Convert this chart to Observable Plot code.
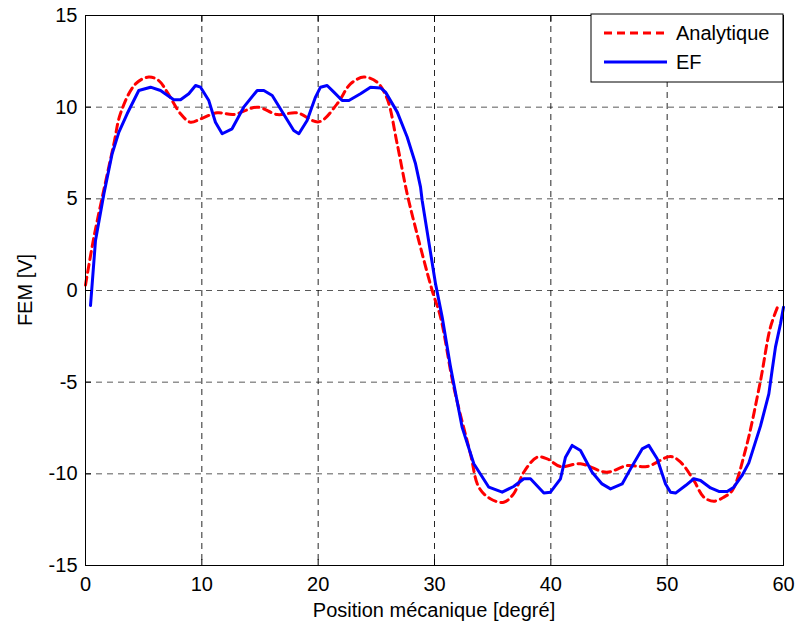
<!DOCTYPE html>
<html><head><meta charset="utf-8">
<script src="https://cdn.jsdelivr.net/npm/d3@7"></script>
<script src="https://cdn.jsdelivr.net/npm/@observablehq/plot@0.6"></script>
<style>body{margin:0;background:#fff;font-family:"Liberation Sans",Arial,sans-serif}</style>
</head><body><div id="chart"></div>
<script>
const seriesNames = ["Analytique", "EF"];
const xTicks = [0, 10, 20, 30, 40, 50, 60];
const yTicks = [-15, -10, -5, 0, 5, 10, 15];

const analytiqueX = [0,0.72,1.58,2.44,3.0,4.3,5.44,6.3,7.02,8.17,9.03,9.89,11.32,12.75,14.76,16.48,18.19,20.06,21.63,22.78,23.93,25.07,25.93,26.79,27.65,28.5,29.8,30.52,31.66,33.09,33.81,34.8,35.95,36.8,37.68,38.82,39.68,40.83,42.55,44.8,46.55,48.27,50.29,51.15,52.29,53.15,54.0,54.87,55.59,56.73,58.0,58.88,59.6];
const analytiqueY = [0.3,2.9,5.5,8.0,9.64,11.27,11.64,11.45,10.82,9.64,9.18,9.36,9.69,9.6,10.0,9.6,9.69,9.2,10.18,11.27,11.64,11.36,10.46,8.0,5.27,3.09,0,-1.45,-5.27,-8.91,-10.73,-11.36,-11.55,-11.09,-9.91,-9.09,-9.18,-9.6,-9.45,-9.91,-9.55,-9.6,-9.06,-9.36,-10.36,-11.27,-11.49,-11.27,-10.91,-8.7,-5.0,-2.0,-0.73];

const efX = [0.43,0.86,1.58,2.29,2.87,3.58,4.58,5.59,6.45,7.59,8.17,8.88,9.46,9.89,10.6,11.17,11.75,12.6,13.6,14.76,15.33,16.05,17.9,18.34,19.05,19.77,20.2,20.77,21.35,22.06,22.64,23.64,24.5,25.36,25.79,26.8,27.65,28.37,28.8,28.94,30.09,30.66,31.38,32.37,33.38,34.67,35.82,36.8,37.68,38.25,39.4,39.97,40.83,41.26,41.83,42.55,43.55,44.4,45.13,46.13,46.85,47.85,48.42,49.14,49.86,50.29,50.72,51.58,52.29,52.87,53.73,54.44,55.16,55.73,56.44,57.02,58.02,58.74,59.02,59.31,59.74,60.0];
const efY = [-0.82,2.73,5.27,7.46,8.64,9.64,10.91,11.09,10.91,10.4,10.4,10.73,11.18,11.09,10.36,9.18,8.55,8.82,10.0,10.91,10.91,10.64,8.73,8.55,9.27,10.55,11.09,11.18,10.82,10.36,10.36,10.73,11.09,11.05,10.82,9.73,8.37,6.91,5.64,4.91,0.36,-1.45,-4.18,-7.45,-9.45,-10.73,-11.0,-10.69,-10.27,-10.27,-11.05,-11.0,-10.27,-9.09,-8.45,-8.73,-9.91,-10.55,-10.82,-10.55,-9.73,-8.64,-8.45,-9.18,-10.55,-11.0,-11.05,-10.64,-10.27,-10.36,-10.77,-10.96,-10.96,-10.73,-10.09,-9.4,-7.4,-5.64,-4.36,-3.09,-1.82,-0.91];

const analytique = analytiqueX.map((x, i) => ({x, y: analytiqueY[i]}));
const ef = efX.map((x, i) => ({x, y: efY[i]}));
const fmt = d => String(d);

const W = 797, H = 627, ML = 85, MR = 14, MT = 15, MB = 62;

const plot = Plot.plot({
  width: W, height: H,
  marginLeft: ML, marginRight: MR, marginTop: MT, marginBottom: MB,
  style: {fontFamily: "Liberation Sans, Arial, sans-serif", fontSize: "20px", background: "#fff", color: "#000"},
  x: {domain: [0, 60], ticks: xTicks, label: null},
  y: {domain: [-15, 15], ticks: yTicks, label: null},
  marks: [
    Plot.gridX(xTicks, {stroke: "#000", strokeOpacity: 0.85, strokeDasharray: "6,5", strokeWidth: 1}),
    Plot.gridY(yTicks, {stroke: "#000", strokeOpacity: 0.65, strokeDasharray: "6,5", strokeWidth: 1}),
    Plot.line(analytique, {x: "x", y: "y", stroke: "#ff0000", strokeWidth: 3, strokeDasharray: "8,5", curve: "catmull-rom"}),
    Plot.line(ef, {x: "x", y: "y", stroke: "#0000ff", strokeWidth: 3}),
    Plot.frame({stroke: "#000", strokeOpacity: 1}),
    Plot.axisX(xTicks, {anchor: "bottom", tickSize: -6, tickPadding: 17, tickFormat: fmt, label: null}),
    Plot.axisX(xTicks, {anchor: "top", tickSize: -6, tickFormat: () => "", label: null}),
    Plot.axisY(yTicks, {anchor: "left", tickSize: -6, tickPadding: 14, tickFormat: fmt, label: null}),
    Plot.axisY(yTicks, {anchor: "right", tickSize: -6, tickFormat: () => "", label: null})
  ]
});

const svg = d3.select(plot);
svg.selectAll("text").style("font-size", "20px");
svg.append("text").attr("x", (ML + W - MR) / 2).attr("y", 617).attr("text-anchor", "middle")
  .style("font-size", "20px").attr("fill", "#000").text("Position mécanique [degré]");
svg.append("text").attr("transform", `translate(32,${(MT + H - MB) / 2}) rotate(-90)`).attr("text-anchor", "middle")
  .style("font-size", "20px").attr("fill", "#000").text("FEM [V]");

const leg = svg.append("g").attr("transform", "translate(591,14)");
leg.append("rect").attr("width", 192).attr("height", 68).attr("fill", "#fff").attr("stroke", "#000").attr("stroke-width", 1);
const colors = ["#ff0000", "#0000ff"];
const dashes = ["8,5", null];
seriesNames.forEach((name, i) => {
  const y = 19 + i * 29;
  leg.append("line").attr("x1", 13).attr("x2", 76).attr("y1", y).attr("y2", y)
    .attr("stroke", colors[i]).attr("stroke-width", 3).attr("stroke-dasharray", dashes[i]);
  leg.append("text").attr("x", 85).attr("y", y).attr("dy", "0.36em").attr("text-anchor", "start")
    .style("font-size", "20px").attr("fill", "#000").text(name);
});

document.getElementById("chart").appendChild(plot);
</script></body></html>
